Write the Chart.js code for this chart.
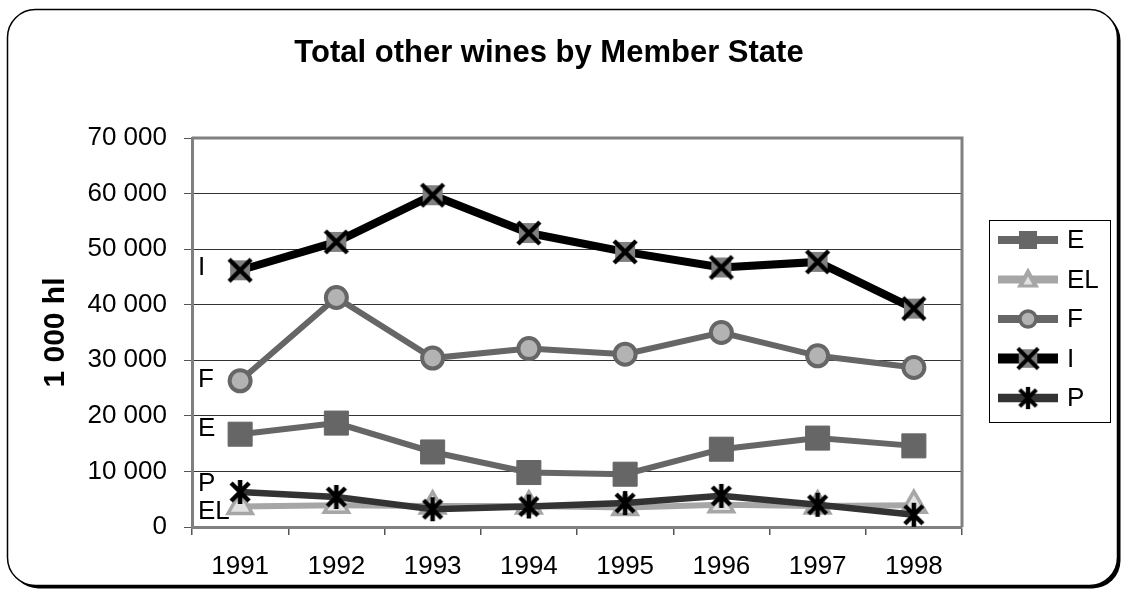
<!DOCTYPE html>
<html>
<head>
<meta charset="utf-8">
<script src="https://cdn.jsdelivr.net/npm/chart.js@4.4.1/dist/chart.umd.min.js"></script>
<style>
html,body{margin:0;padding:0;background:#fff;}
#wrap{width:1123px;height:590px;}
canvas{display:block;}
</style>
</head>
<body>
<div id="wrap"><canvas id="c" width="1123" height="590"></canvas></div>
<script>
// ---- data ----
const chartTitle = 'Total other wines by Member State';
const yAxisTitle = '1 000 hl';
const years = ['1991','1992','1993','1994','1995','1996','1997','1998'];
const seriesNames = ['E','EL','F','I','P'];
const valuesE  = [16700, 18700, 13500,  9800,  9500, 14000, 16000, 14600];
const valuesEL = [ 3700,  3900,  3800,  3800,  3500,  4000,  3800,  3900];
const valuesF  = [26300, 41300, 30400, 32100, 31100, 35000, 30800, 28700];
const valuesI  = [46200, 51300, 59700, 52900, 49500, 46700, 47700, 39300];
const valuesP  = [ 6300,  5400,  3200,  3700,  4300,  5600,  4000,  2200];
const yMin = 0, yMax = 70000, yStep = 10000;

// ---- marker images ----
function makeI(){
  const c=document.createElement('canvas');c.width=c.height=28;
  const g=c.getContext('2d');
  g.fillStyle='#808080';g.fillRect(4,4,20,20);
  g.strokeStyle='#000';g.lineWidth=4.5;
  g.beginPath();g.moveTo(3,3);g.lineTo(25,25);g.moveTo(25,3);g.lineTo(3,25);g.stroke();
  return c;
}
function makeP(){
  const c=document.createElement('canvas');c.width=c.height=28;
  const g=c.getContext('2d');
  g.strokeStyle='#000';g.lineWidth=4.5;
  g.beginPath();
  g.moveTo(5,5);g.lineTo(23,23);g.moveTo(23,5);g.lineTo(5,23);
  g.moveTo(14,2);g.lineTo(14,26);
  g.stroke();
  return c;
}
const imgI = makeI(), imgP = makeP();

const styles = {
  E:  {line:'#666666', lw:6, ps:'rect', r:17, fill:'#666666', bc:'#666666', bw:1, dy:-5},
  EL: {line:'#a6a6a6', lw:6, ps:'triangle', r:14, fill:'#e2e2e2', bc:'#a6a6a6', bw:3.5, dy:5},
  F:  {line:'#666666', lw:6, ps:'circle', r:10.5, fill:'#b3b3b3', bc:'#666666', bw:4, dy:-1},
  I:  {line:'#000000', lw:8, ps:imgI, r:14, fill:'#808080', bc:'#000', bw:0, dy:-2},
  P:  {line:'#333333', lw:6.5, ps:imgP, r:14, fill:'#000', bc:'#000', bw:0, dy:-8}
};
const valueSets = {E:valuesE, EL:valuesEL, F:valuesF, I:valuesI, P:valuesP};
const drawOrder = {E:4, EL:3, F:2, I:1, P:0};

const datasets = seriesNames.map(n => ({
  label: n,
  data: valueSets[n],
  borderColor: styles[n].line,
  borderWidth: styles[n].lw,
  backgroundColor: styles[n].fill,
  pointStyle: styles[n].ps,
  pointRadius: styles[n].r,
  pointBackgroundColor: styles[n].fill,
  pointBorderColor: styles[n].bc,
  pointBorderWidth: styles[n].bw,
  tension: 0,
  fill: false,
  order: drawOrder[n]
}));

function fmt(v){ return String(v).replace(/\B(?=(\d{3})+(?!\d))/g, ' '); }

function rr(ctx,x,y,w,h,r){
  ctx.beginPath();
  ctx.moveTo(x+r,y);ctx.lineTo(x+w-r,y);ctx.arcTo(x+w,y,x+w,y+r,r);
  ctx.lineTo(x+w,y+h-r);ctx.arcTo(x+w,y+h,x+w-r,y+h,r);
  ctx.lineTo(x+r,y+h);ctx.arcTo(x,y+h,x,y+h-r,r);
  ctx.lineTo(x,y+r);ctx.arcTo(x,y,x+r,y,r);ctx.closePath();
}

const FONT = "'Liberation Sans', Arial, sans-serif";

const framePlugin = {
  id:'frame',
  beforeDraw(chart){
    const ctx=chart.ctx;
    ctx.save();
    ctx.fillStyle='#fff';ctx.fillRect(0,0,chart.width,chart.height);
    rr(ctx,10.5,12.5,1110,576,28);ctx.fillStyle='#000';ctx.fill();
    rr(ctx,7.5,9.5,1110,576,28);ctx.fillStyle='#fff';ctx.fill();
    ctx.lineWidth=1.5;ctx.strokeStyle='#000';ctx.stroke();
    // title
    ctx.fillStyle='#000';ctx.font="bold 31px "+FONT;
    ctx.textAlign='center';ctx.textBaseline='middle';
    ctx.fillText(chartTitle, 549, 53);
    ctx.restore();
  },
  beforeDatasetsDraw(chart){
    const {ctx, chartArea:a}=chart;
    ctx.save();
    ctx.strokeStyle='#808080';ctx.lineWidth=3;
    ctx.beginPath();ctx.moveTo(a.left,a.top);ctx.lineTo(a.right,a.top);ctx.lineTo(a.right,a.bottom);ctx.stroke();
    ctx.restore();
  },
  afterDatasetsDraw(chart){
    const {ctx, chartArea:a}=chart;
    ctx.save();
    ctx.fillStyle='#000';ctx.font="26px "+FONT;ctx.textAlign='left';ctx.textBaseline='middle';
    seriesNames.forEach((n,i)=>{
      const p=chart.getDatasetMeta(i).data[0];
      ctx.fillText(n, a.left+6, p.y+styles[n].dy);
    });
    ctx.restore();
  },
  afterDraw(chart){
    const ctx=chart.ctx;
    ctx.save();
    const bx=989.5, by=220.5, bw=121, bh=202;
    ctx.strokeStyle='#000';ctx.lineWidth=1;ctx.strokeRect(bx,by,bw,bh);
    seriesNames.forEach((n,i)=>{
      const s=styles[n];
      const y=240+i*39.5;
      ctx.strokeStyle=s.line;ctx.lineWidth=s.lw+2;
      ctx.beginPath();ctx.moveTo(998,y);ctx.lineTo(1058,y);ctx.stroke();
      const cx=1028;
      if(n==='E'){ctx.fillStyle=s.fill;ctx.fillRect(cx-9,y-9,18,18);}
      else if(n==='EL'){
        ctx.beginPath();ctx.moveTo(cx,y-12);ctx.lineTo(cx+11,y+8);ctx.lineTo(cx-11,y+8);ctx.closePath();
        ctx.fillStyle=s.bc;ctx.fill();
        ctx.beginPath();ctx.moveTo(cx,y-3);ctx.lineTo(cx+4.5,y+5);ctx.lineTo(cx-4.5,y+5);ctx.closePath();
        ctx.fillStyle=s.fill;ctx.fill();
      }
      else if(n==='F'){ctx.beginPath();ctx.arc(cx,y,8,0,Math.PI*2);ctx.fillStyle=s.fill;ctx.fill();ctx.lineWidth=3.5;ctx.strokeStyle=s.bc;ctx.stroke();}
      else {ctx.drawImage(s.ps,cx-13,y-13,26,26);}
      ctx.fillStyle='#000';ctx.font="26px "+FONT;ctx.textAlign='left';ctx.textBaseline='middle';
      ctx.fillText(n,1067,y+1);
    });
    ctx.restore();
  }
};

Chart.defaults.font.family = FONT;
Chart.defaults.color = '#000';

new Chart(document.getElementById('c'), {
  type:'line',
  data:{labels:years, datasets:datasets},
  options:{
    responsive:false, animation:false, devicePixelRatio:1,
    layout:{padding:{top:138,right:161,bottom:0,left:0}},
    plugins:{legend:{display:false}, tooltip:{enabled:false}, title:{display:false}},
    scales:{
      x:{
        type:'category', offset:true,
        grid:{drawOnChartArea:false, offset:true, tickLength:8, color:'#555', lineWidth:1.5},
        border:{display:true, color:'#808080', width:3},
        ticks:{font:{size:26}, color:'#000', padding:16, maxRotation:0},
        afterFit(s){ s.height = 63; }
      },
      y:{
        min:yMin, max:yMax,
        ticks:{stepSize:yStep, font:{size:26}, color:'#000', padding:17, callback:v=>fmt(v)},
        grid:{color:'#333', lineWidth:1, tickLength:8, tickColor:'#555'},
        border:{display:true, color:'#808080', width:3},
        title:{display:true, text:yAxisTitle, font:{size:30, weight:'bold'}, color:'#000', padding:{top:38,bottom:0}},
        afterFit(s){ s.width = 192; }
      }
    }
  },
  plugins:[framePlugin]
});
</script>
</body>
</html>
